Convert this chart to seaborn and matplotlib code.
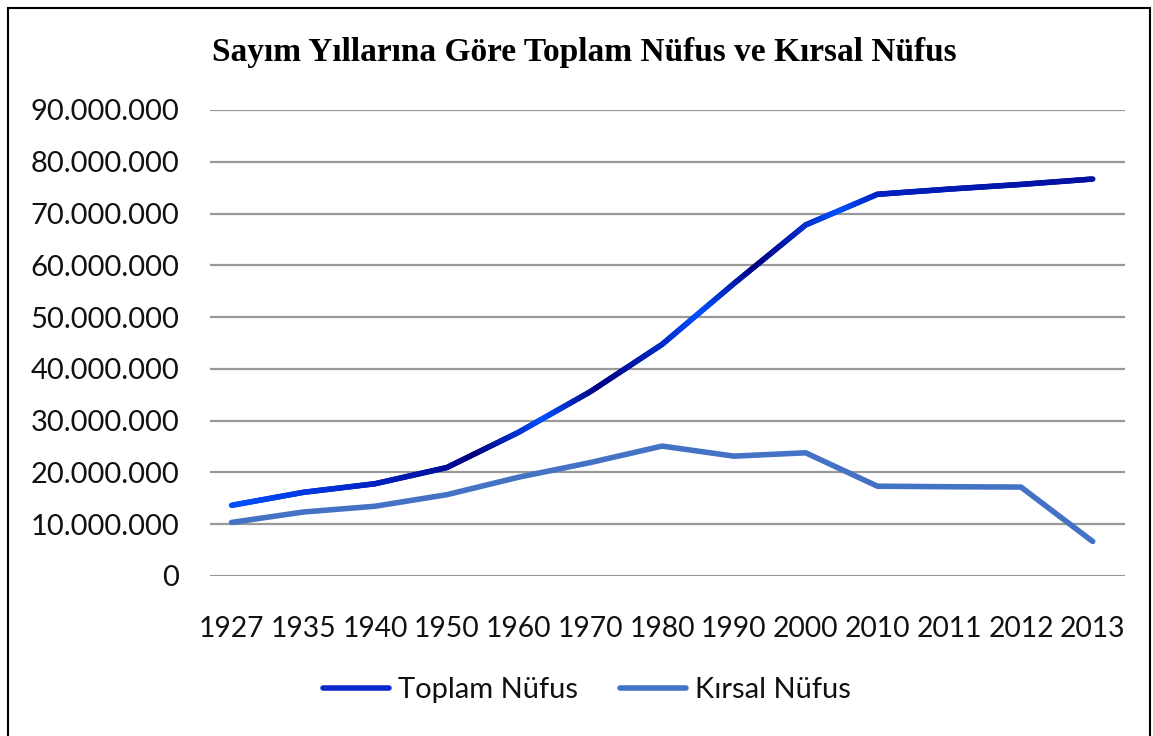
import matplotlib
matplotlib.use("Agg")
import matplotlib.pyplot as plt
import seaborn as sns
import pandas as pd
import numpy as np
from matplotlib.patches import Rectangle
from matplotlib.ticker import FuncFormatter, MultipleLocator
from matplotlib.collections import LineCollection
from matplotlib.colors import LinearSegmentedColormap

years = ["1927", "1935", "1940", "1950", "1960", "1970", "1980", "1990",
         "2000", "2010", "2011", "2012", "2013"]
toplam = [13648270, 16158018, 17820950, 20947188, 27754820, 35605176,
          44736957, 56473035, 67803927, 73722988, 74724269, 75627384, 76667864]
kirsal = [10342391, 12355376, 13474701, 15702851, 19083480, 21914075,
          25091950, 23146684, 23797653, 17344262, 17238545, 17178953, 6670000]
series_names = ["Toplam Nüfus", "Kırsal Nüfus"]
title = "Sayım Yıllarına Göre Toplam Nüfus ve Kırsal Nüfus"

df = pd.DataFrame({"Yıl": years * 2,
                   "Nüfus": toplam + kirsal,
                   "Seri": [series_names[0]] * len(years) + [series_names[1]] * len(years)})

sns.set_theme(style="white")
plt.rcParams["font.family"] = ["Lato", "DejaVu Sans"]

fig = plt.figure(figsize=(11.53, 7.36), dpi=100)
ax = fig.add_axes([210 / 1153, 1 - 576 / 736, (1125 - 210) / 1153, (576 - 110) / 736])

palette = {series_names[0]: "#0A28CC", series_names[1]: "#4472C4"}
sns.lineplot(data=df, x="Yıl", y="Nüfus", hue="Seri", palette=palette,
             linewidth=4, ax=ax, sort=False, legend=True,
             solid_capstyle="round", solid_joinstyle="round")

XL = (-0.3, 12.45)
ax.set_ylim(0, 90_000_000)
ax.set_xlim(*XL)

# gradient styling over the "Toplam" line (style only, follows the plotted line)
grad = LinearSegmentedColormap.from_list("grad", [
    (0.0, "#0050FF"), (0.024, "#0050FF"), (0.131, "#0030D8"), (0.268, "#000A95"),
    (0.29, "#000080"), (0.366, "#0050FF"), (0.426, "#00007E"), (0.503, "#0030D0"),
    (0.536, "#0050FF"), (0.598, "#000080"), (0.689, "#0050FF"), (0.732, "#0020C0"),
    (0.962, "#0010A0"), (1.0, "#0010A0")])
tl = ax.lines[0]
xd = np.asarray(tl.get_xdata(), dtype=float)
yd = np.asarray(tl.get_ydata(), dtype=float)
sub = 40
xs, ys = [], []
for i in range(len(xd) - 1):
    t = np.linspace(0, 1, sub, endpoint=False)
    xs.append(xd[i] + (xd[i + 1] - xd[i]) * t)
    ys.append(yd[i] + (yd[i + 1] - yd[i]) * t)
xs.append([xd[-1]]); ys.append([yd[-1]])
xs = np.concatenate(xs); ys = np.concatenate(ys)
pts = np.column_stack([xs, ys]).reshape(-1, 1, 2)
segs = np.concatenate([pts[:-1], pts[1:]], axis=1)
fr = ((xs[:-1] + xs[1:]) / 2 - XL[0]) / (XL[1] - XL[0])
lc = LineCollection(segs, colors=grad(fr), linewidths=4, capstyle="round", joinstyle="round", zorder=3)
ax.add_collection(lc)
tl.set_visible(False)

ax.yaxis.set_major_locator(MultipleLocator(10_000_000))
ax.yaxis.set_major_formatter(FuncFormatter(lambda v, p: "0" if v == 0 else f"{int(v):,}".replace(",", ".")))
ax.grid(axis="y", color="#999999", linewidth=1.6)
ax.set_axisbelow(True)
for s in ax.spines.values():
    s.set_visible(False)
ax.tick_params(axis="both", length=0, colors="#111111")
ax.tick_params(axis="y", pad=22, labelsize=21)
ax.tick_params(axis="x", pad=29, labelsize=20.3)
ax.set_xlabel("")
ax.set_ylabel("")

handles, labels = ax.get_legend_handles_labels()
leg = ax.legend(handles, labels, loc="center", bbox_to_anchor=(0.412, -0.245),
                ncol=2, frameon=False, fontsize=21, handlelength=2.26,
                columnspacing=1.45, handletextpad=0.3)
for t in leg.get_texts():
    t.set_color("#111111")
for h in leg.get_lines():
    h.set_linewidth(4)
    h.set_visible(True)

fig.text(584 / 1153, 1 - 52 / 736, title, ha="center", va="center", color="black",
         fontsize=24, fontweight="bold", family=["Liberation Serif", "DejaVu Serif"])

fig.patches.append(Rectangle((8 / 1153, -0.01), (1150 - 8) / 1153, 1 - 8 / 736 + 0.01,
                             transform=fig.transFigure, fill=False,
                             edgecolor="black", linewidth=1.5))

fig.savefig("out.png", dpi=100)
